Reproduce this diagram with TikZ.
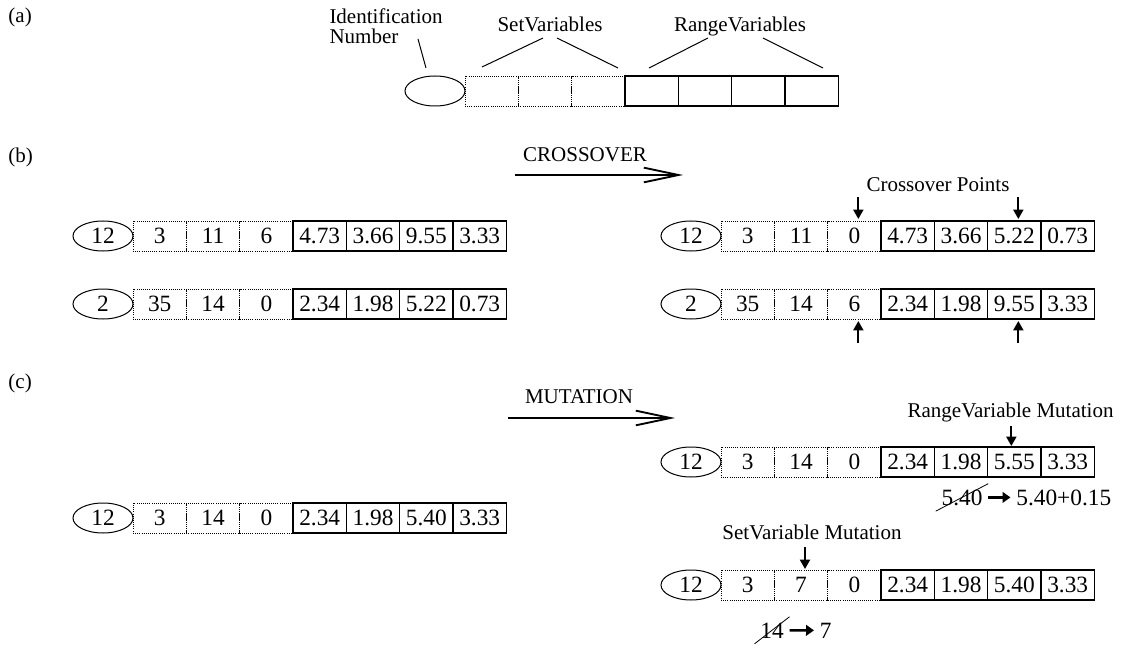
\documentclass[tikz,border=0pt]{standalone}
\usepackage{fontspec}
\setmainfont{Liberation Serif}
\usetikzlibrary{positioning,arrows.meta,shapes.geometric,calc}

\newcommand{\cellfont}{\fontsize{17.5}{20}\selectfont}
\newcommand{\lblfont}{\fontsize{15.75}{15.5}\selectfont}

% one chromosome: name, ellipse centre, id, set values, range values
\newcommand{\chromrow}[5]{%
  \node[idcell] (#1-id) at #2 {#3};
  \xdef\prevcell{#1-id}%
  \foreach \v [count=\i] in {#4}{%
    \node[setcell, right=0pt of \prevcell] (#1-s\i) {\v};
    \xdef\prevcell{#1-s\i}}%
  \foreach \v [count=\i] in {#5}{%
    \node[rangecell, right=0pt of \prevcell] (#1-r\i) {\v};
    \xdef\prevcell{#1-r\i}}%
}

\tikzset{every picture/.style={line width=0.75pt}}
\tikzset{
  idcell/.style={draw, ellipse, minimum width=45pt, minimum height=22.5pt, inner sep=0pt, outer sep=0pt, font=\cellfont},
  setcell/.style={draw, line width=0.6pt, dash pattern=on 0.6pt off 1pt, minimum width=40pt, minimum height=22.5pt, inner sep=0pt, outer sep=0pt, font=\cellfont},
  rangecell/.style={draw, line width=1pt, minimum width=40pt, minimum height=22.5pt, inner sep=0pt, outer sep=0pt, font=\cellfont},
  lbl/.style={inner sep=0pt, font=\lblfont},
  note/.style={inner sep=4pt, font=\cellfont},
  procarrow/.style={line width=1.4pt, -{Straight Barb[length=26pt,width=11pt,line width=1.4pt]}},
  pointer/.style={line width=1.4pt, -{Triangle[length=7pt,width=7.5pt]}},
  swaparrow/.style={line width=1.8pt, -{Triangle[length=6pt,width=8pt]}},
  strike/.style={line width=0.6pt}
}

\begin{document}
\begin{tikzpicture}[x=0.75pt,y=0.75pt,yscale=-1,xscale=1]
\useasboundingbox (0,0) rectangle (1121,649);

% Part labels
\node[lbl, anchor=base west] (parta) at (8,23) {(a)};
\node[lbl, anchor=base west] (partb) at (8,163) {(b)};
\node[lbl, anchor=base west] (partc) at (8,388) {(c)};

%% (a) layout of a chromosome
\chromrow{ga}{(435,91)}{}{{},{},{}}{{},{},{},{}}

% Text Node
\node[lbl, align=left, anchor=north west] (idlbl) at (329,8) {Identification\\Number};
\node[lbl, anchor=base] (setlbl) at (550,32) {SetVariables};
\node[lbl, anchor=base] (rangelbl) at (740,32) {RangeVariables};

% callout lines
\coordinate (id-a) at (418,39);  \coordinate (id-b) at (426,68);
\coordinate (sv-a1) at (543,38); \coordinate (sv-b1) at (482,67);
\coordinate (sv-a2) at (557,38); \coordinate (sv-b2) at (618,68);
\coordinate (rv-a1) at (708,38); \coordinate (rv-b1) at (649,68);
\coordinate (rv-a2) at (763,38); \coordinate (rv-b2) at (823,68);
\draw (id-a) -- (id-b);
\draw (sv-a1) -- (sv-b1);
\draw (sv-a2) -- (sv-b2);
\draw (rv-a1) -- (rv-b1);
\draw (rv-a2) -- (rv-b2);

%% (b) crossover
\chromrow{pa}{(103,236)}{12}{3,11,6}{4.73,3.66,9.55,3.33}
\chromrow{pb}{(103,304)}{2}{35,14,0}{2.34,1.98,5.22,0.73}

\node[lbl, anchor=base] (xolbl) at (585,162) {CROSSOVER};
\coordinate (xo-a) at (515,175);
\coordinate (xo-b) at (683,175);
\draw[procarrow] (xo-a) -- (xo-b);

\chromrow{ca}{(691,236)}{12}{3,11,0}{4.73,3.66,5.22,0.73}
\chromrow{cb}{(691,304)}{2}{35,14,6}{2.34,1.98,9.55,3.33}

\node[lbl, anchor=base] (xplbl) at (938,191) {Crossover Points};
\draw[pointer] ($(ca-s3.north)+(4,-24)$) -- ($(ca-s3.north)+(4,-2)$);
\draw[pointer] ($(ca-r3.north)+(4,-24)$) -- ($(ca-r3.north)+(4,-2)$);
\draw[pointer] ($(cb-s3.south)+(4,24)$) -- ($(cb-s3.south)+(4,2)$);
\draw[pointer] ($(cb-r3.south)+(4,24)$) -- ($(cb-r3.south)+(4,2)$);

%% (c) mutation
\chromrow{mo}{(103,518)}{12}{3,14,0}{2.34,1.98,5.40,3.33}

\node[lbl, anchor=base] (mulbl) at (579,403) {MUTATION};
\coordinate (mu-a) at (508,418);
\coordinate (mu-b) at (675,418);
\draw[procarrow] (mu-a) -- (mu-b);

\chromrow{ma}{(691,462)}{12}{3,14,0}{2.34,1.98,5.55,3.33}
\node[lbl, anchor=base east] (rmlbl) at (1114,417) {RangeVariable Mutation};
\draw[pointer] ($(ma-r3.north)+(-3,-21)$) -- ($(ma-r3.north)+(-3,-1)$);

\node[note, anchor=base] (old540) at (962,505) {5.40};
\node[note, anchor=base east] (new540) at (1117,505) {5.40+0.15};
\draw[strike] (old540.south west) -- (old540.north east);
\draw[swaparrow] (old540.east) -- (new540.west);

\chromrow{mb}{(691,585)}{12}{3,7,0}{2.34,1.98,5.40,3.33}
\node[lbl, anchor=base] (smlbl) at (812,539) {SetVariable Mutation};
\draw[pointer] ($(mb-s2.north)+(4,-23)$) -- ($(mb-s2.north)+(4,-1)$);

\node[note, anchor=base] (old14) at (772,638) {14};
\node[note, anchor=base west] (new7) at (814,638) {7};
\draw[strike] (old14.south west) -- (old14.north east);
\draw[swaparrow] (old14.east) -- (new7.west);

\end{tikzpicture}
\end{document}
